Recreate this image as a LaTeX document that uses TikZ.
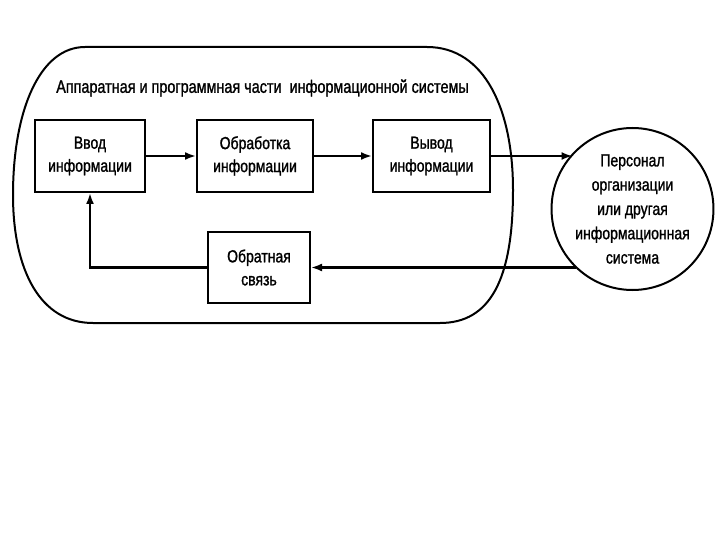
\documentclass[tikz,border=0pt]{standalone}
\usepackage{fontspec}
\setmainfont[FakeStretch=0.8,FakeBold=1.2]{Liberation Sans}
\usetikzlibrary{arrows.meta,shapes.geometric}
\begin{document}
\begin{tikzpicture}[x=1pt,y=-1pt,
  box/.style={draw, line width=2pt, align=center, inner sep=0pt,
    font=\fontsize{17.5}{23}\selectfont},
  arr/.style={line width=2.4pt, -{Latex[length=11pt,width=8pt]}},
  outline/.style={line width=2pt}]
\fill[white] (0,0) rectangle (720,540);
\useasboundingbox (0,0) rectangle (720,540);
% container
\draw[outline] (85,47) -- (427,47)
  .. controls (485,47) and (513,110) .. (513,190)
  .. controls (513,280) and (490,323) .. (440,323)
  -- (93,323)
  .. controls (40,323) and (13,270) .. (13,195)
  .. controls (13,110) and (40,47) .. (85,47) -- cycle;
\node[font=\fontsize{18}{22}\selectfont] (title) at (262.5,88)
  {Аппаратная и программная части\ \ информационной системы};
\node[box, minimum width=110pt, minimum height=72pt] (in) at (90,156) {Ввод\\информации};
\node[box, minimum width=116pt, minimum height=72pt] (proc) at (255,156) {Обработка\\информации};
\node[box, minimum width=117pt, minimum height=72pt] (out) at (431.5,156) {Вывод\\информации};
\node[box, minimum width=102pt, minimum height=71pt] (fb) at (259,267.5) {Обратная\\связь};
\node[draw, ellipse, line width=2pt, minimum width=159pt, minimum height=162pt,
  inner sep=0pt, align=center, font=\fontsize{17.5}{24.3}\selectfont] (pers) at (632.5,209)
  {Персонал\\организации\\или другая\\информационная\\система};
\draw[arr] (in) -- (proc);
\draw[arr] (proc) -- (out);
\draw[arr] (out.east) -- (out.east -| pers.137);
\draw[arr] (fb.east -| pers.226) -- (fb.east);
\draw[arr] (fb.west) -| (in.south);
\end{tikzpicture}
\end{document}
